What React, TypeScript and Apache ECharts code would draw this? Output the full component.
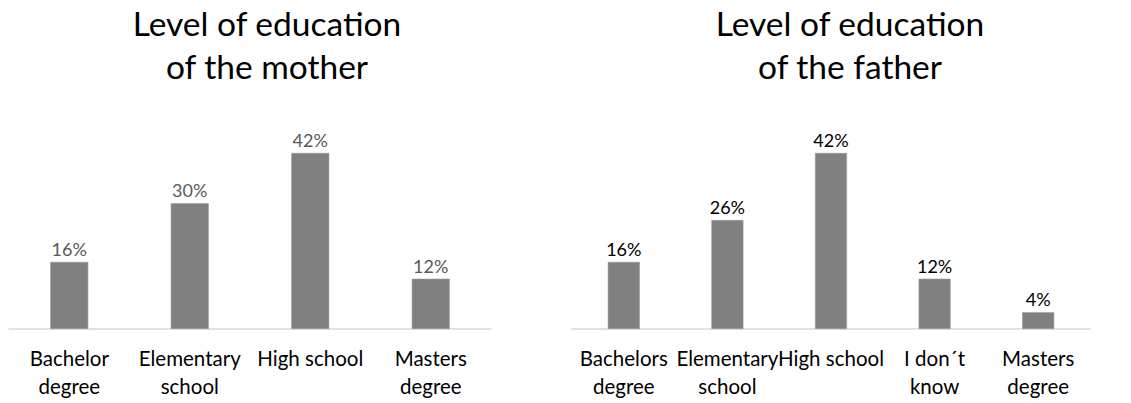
import React, { useEffect, useRef } from "react";
import * as echarts from "echarts";

const motherCategories = ["Bachelor\ndegree", "Elementary\nschool", "High school", "Masters\ndegree"];
const motherValues = [16, 30, 42, 12];
const fatherCategories = ["Bachelors\ndegree", "Elementary\nschool", "High school", "I don´t\nknow", "Masters\ndegree"];
const fatherValues = [16, 26, 42, 12, 4];
const motherTitle = "Level of education\nof the mother";
const fatherTitle = "Level of education\nof the father";

const FONT = "Lato, 'Open Sans', sans-serif";

export default function App() {
  const ref = useRef<HTMLDivElement>(null);
  useEffect(() => {
    if (!ref.current) return;
    const chart = echarts.init(ref.current, undefined, { renderer: "svg" });
    const axisX = (idx: number, data: string[]) => ({
      type: "category",
      gridIndex: idx,
      data,
      axisLine: { show: true, lineStyle: { color: "#d9d9d9", width: 1.5 } },
      axisTick: { show: false },
      axisLabel: {
        interval: 0,
        margin: 15,
        color: "#000",
        fontFamily: FONT,
        fontSize: 20.5,
        lineHeight: 28,
        verticalAlign: "top",
      },
    });
    const axisY = (idx: number) => ({
      type: "value",
      gridIndex: idx,
      min: 0,
      max: 45,
      show: false,
      splitLine: { show: false },
    });
    const bar = (idx: number, data: number[], width: number, labelColor: string) => ({
      type: "bar",
      xAxisIndex: idx,
      yAxisIndex: idx,
      data,
      barWidth: width,
      itemStyle: { color: "#808080", borderColor: "#9a9a9a", borderWidth: 0.6 },
      label: {
        show: true,
        position: "top",
        distance: 4,
        formatter: "{c}%",
        color: labelColor,
        fontFamily: FONT,
        fontSize: 18,
      },
    });
    const title = (x: number, text: string) => ({
      type: "text",
      x,
      y: 1,
      style: {
        text,
        align: "center",
        verticalAlign: "top",
        fontFamily: FONT,
        fontSize: 33.5,
        lineHeight: 43,
        fill: "#000",
      },
    });
    chart.setOption({
      animation: false,
      backgroundColor: "#fff",
      grid: [
        { left: 9, width: 482, top: 140.4, bottom: 74 },
        { left: 572, width: 518, top: 140.4, bottom: 74 },
      ],
      xAxis: [axisX(0, motherCategories), axisX(1, fatherCategories)],
      yAxis: [axisY(0), axisY(1)],
      series: [bar(0, motherValues, 38, "#595959"), bar(1, fatherValues, 32, "#000")],
      graphic: [title(267, motherTitle), title(850, fatherTitle)],
    });
    return () => chart.dispose();
  }, []);
  return (
    <div
      ref={ref}
      style={{ position: "absolute", left: 0, top: 0, width: 1131, height: 403 }}
    />
  );
}
